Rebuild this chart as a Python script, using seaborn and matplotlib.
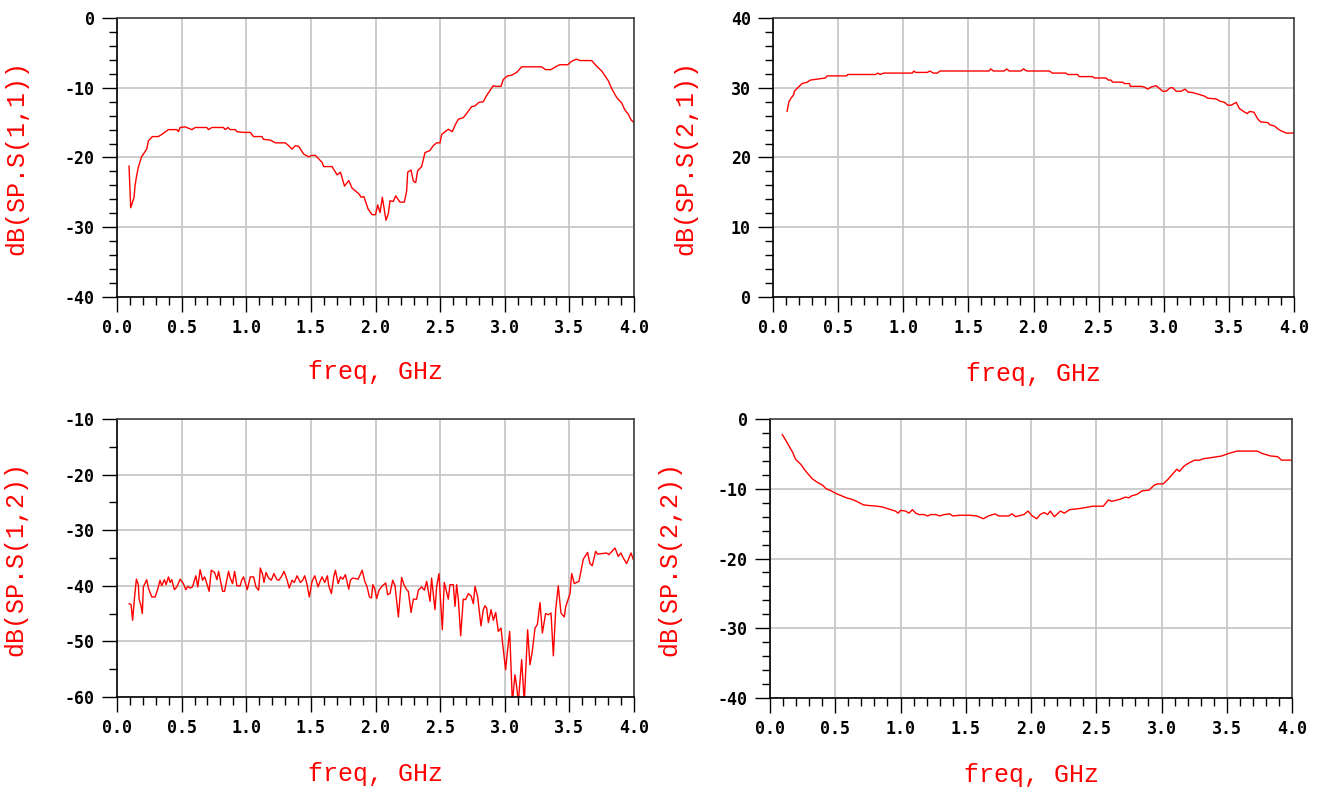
import matplotlib
matplotlib.use("Agg")
import matplotlib.pyplot as plt
import seaborn as sns
from matplotlib.ticker import MultipleLocator

# ---------------- data ----------------
freq_s11 = [0.093, 0.106, 0.132, 0.14, 0.152, 0.165, 0.19, 0.23, 0.243, 0.274,
            0.32, 0.346, 0.398, 0.463, 0.475, 0.488, 0.527, 0.579, 0.605, 0.695,
            0.708, 0.734, 0.824, 0.837, 0.858, 0.876, 0.915, 0.928, 0.979, 1.031,
            1.057, 1.121, 1.134, 1.186, 1.225, 1.302, 1.328, 1.354, 1.38, 1.405,
            1.444, 1.483, 1.509, 1.535, 1.587, 1.599, 1.664, 1.703, 1.729, 1.76,
            1.793, 1.819, 1.871, 1.889, 1.91, 1.943, 1.974, 2.0, 2.017, 2.035,
            2.053, 2.081, 2.099, 2.112, 2.138, 2.156, 2.189, 2.223, 2.241, 2.249,
            2.275, 2.293, 2.311, 2.326, 2.357, 2.383, 2.421, 2.447, 2.473, 2.499,
            2.512, 2.538, 2.563, 2.594, 2.615, 2.641, 2.679, 2.705, 2.744, 2.77,
            2.8, 2.834, 2.86, 2.911, 2.93, 2.971, 2.989, 3.022, 3.053, 3.092,
            3.131, 3.285, 3.316, 3.358, 3.402, 3.427, 3.487, 3.518, 3.556, 3.582,
            3.672, 3.711, 3.75, 3.776, 3.801, 3.827, 3.866, 3.905, 3.93, 3.956,
            3.977, 4.0]
db_s11 = [-21.2, -27.2, -25.7, -24.0, -22.6, -21.4, -19.9, -18.8, -17.6, -17.0,
          -17.0, -16.7, -16.0, -16.0, -16.3, -15.7, -15.6, -16.0, -15.7, -15.7,
          -16.0, -15.7, -15.7, -16.0, -15.7, -16.0, -16.0, -16.3, -16.4, -16.4,
          -17.0, -17.0, -17.4, -17.5, -17.9, -17.9, -18.3, -18.8, -18.3, -18.4,
          -19.5, -19.9, -19.7, -19.7, -20.7, -21.3, -21.3, -22.5, -22.1, -24.1,
          -23.3, -24.4, -25.2, -25.7, -25.6, -27.4, -28.2, -28.2, -26.8, -27.9,
          -25.7, -29.0, -28.1, -26.2, -26.3, -25.5, -26.4, -26.4, -24.8, -22.1,
          -21.8, -23.4, -23.6, -21.9, -21.3, -19.3, -19.0, -18.3, -17.9, -17.9,
          -16.7, -16.3, -15.95, -16.3, -15.4, -14.5, -14.3, -13.7, -12.7, -12.6,
          -12.1, -12.0, -11.1, -9.7, -9.8, -9.8, -8.8, -8.3, -8.2, -7.8,
          -7.0, -7.0, -7.4, -7.4, -6.9, -6.7, -6.7, -6.2, -5.9, -6.1,
          -6.1, -6.9, -7.6, -8.3, -9.0, -10.1, -11.4, -12.2, -13.2, -13.8,
          -14.6, -15.0]

freq_s21 = [0.108, 0.121, 0.138, 0.159, 0.164, 0.19, 0.223, 0.262, 0.287, 0.326,
            0.403, 0.415, 0.564, 0.574, 0.787, 0.805, 0.821, 0.851, 1.069, 1.082,
            1.095, 1.185, 1.205, 1.231, 1.262, 1.282, 1.659, 1.672, 1.692, 1.774,
            1.795, 1.813, 1.903, 1.923, 1.949, 2.121, 2.146, 2.249, 2.262, 2.338,
            2.351, 2.454, 2.467, 2.556, 2.574, 2.595, 2.608, 2.685, 2.697, 2.736,
            2.744, 2.826, 2.851, 2.877, 2.903, 2.941, 2.967, 2.992, 3.018, 3.051,
            3.069, 3.095, 3.133, 3.164, 3.185, 3.223, 3.262, 3.313, 3.338, 3.403,
            3.428, 3.467, 3.492, 3.518, 3.556, 3.582, 3.621, 3.641, 3.659, 3.692,
            3.723, 3.744, 3.8, 3.813, 3.851, 3.877, 3.903, 3.941, 4.0]
db_s21 = [26.6, 27.9, 28.5, 29.0, 29.5, 30.0, 30.6, 30.8, 31.1, 31.2,
          31.4, 31.7, 31.7, 31.9, 31.9, 32.1, 31.9, 32.1, 32.1, 32.4,
          32.2, 32.2, 32.4, 32.1, 32.1, 32.4, 32.4, 32.7, 32.4, 32.4,
          32.7, 32.4, 32.4, 32.7, 32.4, 32.4, 32.1, 32.1, 31.9, 31.9,
          31.6, 31.6, 31.4, 31.4, 31.1, 31.1, 30.8, 30.8, 30.6, 30.6,
          30.2, 30.2, 30.1, 29.8, 30.1, 30.3, 29.9, 29.5, 29.5, 30.0,
          30.0, 29.5, 29.5, 29.8, 29.4, 29.3, 29.1, 28.8, 28.5, 28.4,
          28.1, 27.9, 27.5, 27.5, 27.9, 27.0, 26.5, 26.3, 26.6, 26.5,
          25.5, 25.1, 25.0, 24.7, 24.5, 24.1, 23.8, 23.5, 23.5]

freq_s12 = [0.093, 0.109, 0.121, 0.134, 0.15, 0.165, 0.171, 0.186, 0.196, 0.204,
            0.23, 0.243, 0.269, 0.295, 0.315, 0.333, 0.346, 0.367, 0.38, 0.398,
            0.411, 0.424, 0.444, 0.463, 0.488, 0.514, 0.532, 0.548, 0.566, 0.584,
            0.61, 0.625, 0.643, 0.662, 0.677, 0.687, 0.713, 0.729, 0.755, 0.773,
            0.786, 0.817, 0.832, 0.863, 0.876, 0.894, 0.91, 0.928, 0.953, 0.966,
            0.979, 1.008, 1.031, 1.057, 1.075, 1.096, 1.109, 1.127, 1.137, 1.153,
            1.173, 1.194, 1.214, 1.238, 1.251, 1.271, 1.292, 1.315, 1.333, 1.354,
            1.372, 1.393, 1.419, 1.437, 1.452, 1.468, 1.488, 1.509, 1.53, 1.556,
            1.571, 1.587, 1.607, 1.628, 1.638, 1.659, 1.677, 1.69, 1.711, 1.729,
            1.747, 1.767, 1.793, 1.806, 1.824, 1.866, 1.897, 1.917, 1.935, 1.953,
            1.969, 1.979, 1.995,
            2.009, 2.027, 2.053, 2.079, 2.094, 2.112, 2.133, 2.151, 2.177, 2.202,
            2.22, 2.241, 2.254, 2.275, 2.293, 2.318, 2.331, 2.357, 2.378, 2.396,
            2.409, 2.422, 2.434, 2.46, 2.473, 2.491, 2.517, 2.532, 2.545, 2.563,
            2.576, 2.602, 2.615, 2.628, 2.641, 2.659, 2.679, 2.697, 2.718, 2.739,
            2.757, 2.77, 2.79, 2.816, 2.834, 2.847, 2.86, 2.873, 2.894, 2.912,
            2.93, 2.95, 2.971, 2.986, 3.007, 3.022, 3.038, 3.048, 3.059, 3.079,
            3.092, 3.105, 3.131, 3.151, 3.177, 3.195, 3.213, 3.234, 3.252, 3.273,
            3.291, 3.316, 3.337, 3.358, 3.376, 3.394, 3.414, 3.435, 3.461, 3.471,
            3.505, 3.518, 3.538, 3.574, 3.608, 3.641, 3.659, 3.677, 3.703, 3.719,
            3.788, 3.806, 3.853, 3.878, 3.899, 3.917, 3.943, 3.977, 3.995]
db_s12 = [-43.2, -43.4, -46.2, -42.5, -38.8, -39.8, -42.4, -43.6, -45.0, -40.2,
          -38.9, -40.4, -42.0, -42.0, -40.6, -39.0, -40.0, -38.9, -39.8, -38.4,
          -39.4, -38.9, -40.7, -40.2, -38.8, -39.6, -40.7, -40.1, -40.4, -40.2,
          -38.2, -40.2, -37.1, -39.0, -38.4, -39.0, -41.0, -37.2, -37.6, -38.9,
          -37.4, -41.0, -41.0, -37.4, -38.6, -39.6, -37.4, -40.0, -40.0, -38.9,
          -38.4, -40.7, -38.4, -38.4, -40.2, -40.8, -36.8, -38.0, -39.4, -37.6,
          -38.6, -39.0, -37.8, -38.9, -39.0, -38.4, -37.4, -38.9, -40.4, -39.0,
          -39.4, -38.2, -39.4, -39.0, -38.2, -39.5, -42.0, -39.2, -38.2, -40.2,
          -39.2, -38.4, -39.4, -38.2, -40.0, -41.4, -38.4, -37.2, -39.6, -38.4,
          -38.8, -38.0, -40.6, -39.0, -38.6, -38.8, -37.2, -39.2, -40.2, -42.0,
          -42.2, -39.8, -40.6,
          -42.3, -40.8, -40.0, -39.5, -41.6, -41.4, -39.0, -40.0, -45.6, -38.5,
          -39.8, -40.7, -41.0, -44.8, -42.4, -42.4, -40.8, -40.2, -40.8, -39.2,
          -41.0, -42.8, -38.6, -44.3, -40.2, -37.8, -47.9, -39.4, -40.6, -42.4,
          -39.8, -39.8, -43.7, -39.8, -42.5, -49.0, -42.4, -42.5, -41.4, -41.8,
          -43.2, -40.1, -41.9, -47.2, -44.3, -43.6, -44.0, -46.6, -44.3, -46.2,
          -44.8, -48.2, -47.6, -50.9, -55.1, -51.5, -48.2, -54.5, -61.0, -56.0,
          -58.1, -61.0, -53.3, -61.0, -47.9, -54.2, -51.8, -47.6, -47.0, -43.0,
          -48.5, -45.0, -45.2, -44.9, -52.6, -44.3, -40.0, -44.9, -45.6, -43.8,
          -41.4, -37.8, -39.6, -39.2, -35.2, -34.0, -36.0, -36.4, -33.8, -34.3,
          -34.1, -34.4, -33.2, -34.7, -34.1, -35.0, -36.0, -34.1, -35.3]

freq_s22 = [0.093, 0.119, 0.145, 0.171, 0.197, 0.236, 0.262, 0.288, 0.326, 0.365,
            0.404, 0.43, 0.469, 0.508, 0.547, 0.585, 0.624, 0.663, 0.715, 0.754,
            0.819, 0.858, 0.909, 0.961, 0.982, 1.0, 1.039, 1.065, 1.091, 1.117,
            1.142, 1.181, 1.207, 1.233, 1.272, 1.298, 1.337, 1.376, 1.402, 1.453,
            1.531, 1.583, 1.635, 1.674, 1.725, 1.751, 1.829, 1.855, 1.881, 1.946,
            1.977, 2.01, 2.044, 2.07, 2.101, 2.127, 2.148, 2.179, 2.225, 2.256,
            2.295, 2.386, 2.477, 2.554, 2.593, 2.619, 2.684, 2.723, 2.749, 2.774,
            2.813, 2.852, 2.904, 2.943, 2.969, 3.013, 3.047, 3.085, 3.117, 3.137,
            3.176, 3.215, 3.254, 3.293, 3.319, 3.396, 3.461, 3.513, 3.578, 3.734,
            3.772, 3.837, 3.889, 3.92, 4.0]
db_s22 = [-2.2, -3.0, -3.85, -4.7, -5.8, -6.5, -7.2, -7.8, -8.6, -9.1,
          -9.5, -10.0, -10.3, -10.7, -11.0, -11.3, -11.5, -11.8, -12.3, -12.4,
          -12.5, -12.6, -12.9, -13.2, -13.5, -13.1, -13.2, -13.5, -13.0, -13.5,
          -13.7, -13.7, -13.9, -13.7, -13.7, -13.9, -13.7, -13.6, -13.9, -13.8,
          -13.8, -13.9, -14.3, -13.9, -13.6, -13.9, -13.9, -13.6, -14.0, -13.7,
          -13.2, -13.9, -14.3, -13.7, -13.4, -13.7, -13.2, -14.0, -13.2, -13.5,
          -13.0, -12.8, -12.5, -12.5, -11.6, -11.8, -11.5, -11.2, -11.3, -11.0,
          -10.8, -10.3, -10.2, -9.5, -9.3, -9.3, -8.7, -7.9, -7.2, -7.5,
          -6.7, -6.25, -5.9, -5.9, -5.7, -5.5, -5.3, -4.95, -4.6, -4.6,
          -4.95, -5.3, -5.4, -5.9, -5.9]

xticks = [0.0, 0.5, 1.0, 1.5, 2.0, 2.5, 3.0, 3.5, 4.0]
xtick_labels = ["0.0", "0.5", "1.0", "1.5", "2.0", "2.5", "3.0", "3.5", "4.0"]
x_label = "freq, GHz"

yticks_s11 = [-40, -30, -20, -10, 0]
ytick_labels_s11 = ["-40", "-30", "-20", "-10", "0"]
yticks_s21 = [0, 10, 20, 30, 40]
ytick_labels_s21 = ["0", "10", "20", "30", "40"]
yticks_s12 = [-60, -50, -40, -30, -20, -10]
ytick_labels_s12 = ["-60", "-50", "-40", "-30", "-20", "-10"]
yticks_s22 = [-40, -30, -20, -10, 0]
ytick_labels_s22 = ["-40", "-30", "-20", "-10", "0"]

ylabels = ["dB(SP.S(1,1))", "dB(SP.S(2,1))", "dB(SP.S(1,2))", "dB(SP.S(2,2))"]

# ---------------- drawing ----------------
sns.set_style("white")
plt.rcParams["font.family"] = ["DejaVu Sans Mono", "DejaVu Sans"]
plt.rcParams["axes.unicode_minus"] = False

fig = plt.figure(figsize=(13.32, 7.87), dpi=100)

panels = [
    ([117 / 1332, 1 - 297 / 787, 517 / 1332, 279 / 787], freq_s11, db_s11,
     (-40, 0), yticks_s11, ytick_labels_s11, 2, ylabels[0], -0.172, -0.226),
    ([773 / 1332, 1 - 297 / 787, 521 / 1332, 279 / 787], freq_s21, db_s21,
     (0, 40), yticks_s21, ytick_labels_s21, 2, ylabels[1], -0.146, -0.232),
    ([117 / 1332, 1 - 697 / 787, 517 / 1332, 278 / 787], freq_s12, db_s12,
     (-60, -10), yticks_s12, ytick_labels_s12, 5, ylabels[2], -0.174, -0.235),
    ([770 / 1332, 1 - 698 / 787, 522 / 1332, 279 / 787], freq_s22, db_s22,
     (-40, 0), yticks_s22, ytick_labels_s22, 2, ylabels[3], -0.17, -0.233),
]

tick_font = dict(family="DejaVu Sans Mono", fontsize=12, fontweight="bold", color="black")
label_font = dict(family="Liberation Mono", fontsize=18, color="#ff0000")

for rect, fr, db, ylim, yt, ytl, yminor, ylab, ylx, xly in panels:
    ax = fig.add_axes(rect)
    sns.lineplot(x=fr, y=db, ax=ax, color="#ff0000", linewidth=1.0,
                 estimator=None, sort=False)
    ax.set_xlim(0, 4)
    ax.set_ylim(*ylim)
    ax.set_xticks(xticks)
    ax.set_xticklabels(xtick_labels, **tick_font)
    ax.set_yticks(yt)
    ax.set_yticklabels(ytl, **tick_font)
    ax.xaxis.set_minor_locator(MultipleLocator(0.1))
    ax.yaxis.set_minor_locator(MultipleLocator(yminor))
    ax.tick_params(which="major", direction="out", length=11, width=1.0,
                   color="black", pad=5, bottom=True, left=True, top=False, right=False)
    ax.tick_params(which="minor", direction="out", length=5.5, width=1.0,
                   color="black", bottom=True, left=True, top=False, right=False)
    ax.grid(True, which="major", color="#c8c8c8", linewidth=1.3)
    ax.grid(False, which="minor")
    ax.set_axisbelow(True)
    for name, sp in ax.spines.items():
        sp.set_visible(True)
        sp.set_color("black" if name in ("left", "bottom") else "#404040")
        sp.set_linewidth(1.2)
    ax.set_xlabel(x_label, **label_font)
    ax.set_ylabel(ylab, **label_font)
    ax.xaxis.set_label_coords(0.5, xly)
    ax.yaxis.set_label_coords(ylx, 0.5)

fig.savefig("out.png", dpi=100)
